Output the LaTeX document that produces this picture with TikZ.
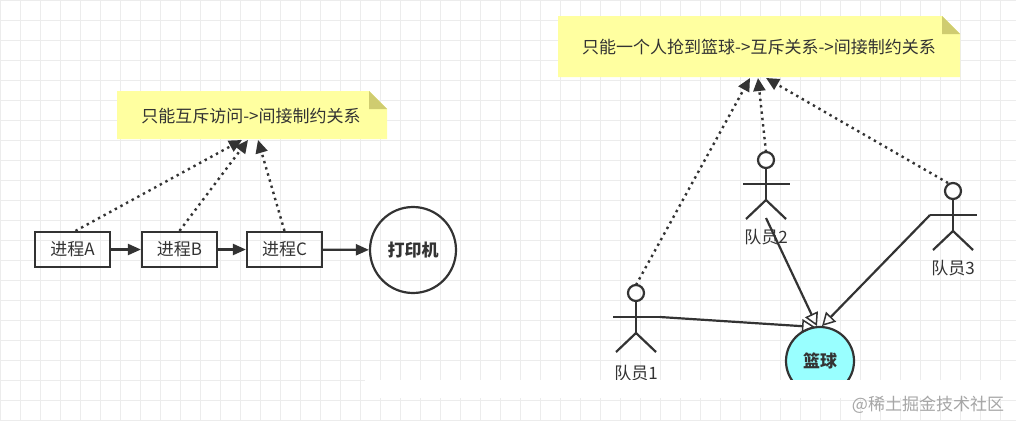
\documentclass[tikz,border=0pt]{standalone}
\usepackage{fontspec}
\setmainfont{Noto Sans CJK SC}
\usetikzlibrary{arrows.meta}
\definecolor{notefill}{HTML}{FFFFA0}
\definecolor{notefold}{HTML}{CFCC70}
\definecolor{ink}{HTML}{333333}
\definecolor{ball}{HTML}{99FFFF}
\tikzset{
  every node/.style={font=\fontsize{17}{19}\selectfont, text=ink},
  proc/.style={draw=ink, line width=2.2pt, minimum width=75pt, minimum height=35pt, inner sep=0},
  solidarr/.style={draw=ink, line width=2.2pt, -{Triangle[length=13pt,width=11pt]}},
  dotarr/.style={draw=ink, line width=2.4pt, dash pattern=on 2.4pt off 4pt, -{Triangle[length=13pt,width=12pt]}},
  openarr/.style={draw=ink, line width=2.2pt, -{Triangle[open,length=13pt,width=14pt,line width=1.5pt]}},
  actorline/.style={draw=ink, line width=2.2pt},
}
\begin{document}
\begin{tikzpicture}[x=1pt,y=-1pt]
\useasboundingbox (0,0) rectangle (1016,421);
\fill[white] (0,0) rectangle (1016,421);
\foreach \i in {0,20,...,1020}{\draw[gray!15, line width=0.8pt] (\i,0) -- (\i,421);}
\foreach \j in {0,20,...,420}{\draw[gray!15, line width=0.8pt] (0,\j) -- (1016,\j);}
% notes
\fill[notefill] (117,91) -- (369,91) -- (387,109) -- (387,139) -- (117,139) -- cycle;
\fill[notefold] (369,91) -- (387,109) -- (369,109) -- cycle;
\node (n1) at (251,116) {只能互斥访问->间接制约关系};
\coordinate (n1b) at (252,140);
\fill[notefill] (558,16) -- (942,16) -- (960,34) -- (960,77) -- (558,77) -- cycle;
\fill[notefold] (942,16) -- (960,34) -- (942,34) -- cycle;
\node (n2) at (759,47) {只能一个人抢到篮球->互斥关系->间接制约关系};
% processes
\node[proc] (a) at (72.5,249.5) {进程A};
\node[proc] (b) at (179.5,249.5) {进程B};
\node[proc] (c) at (284.5,249.5) {进程C};
\node[draw=ink, line width=2.2pt, circle, minimum size=86pt, inner sep=0, font=\fontsize{17}{19}\selectfont\bfseries] (p) at (413,250) {打印机};
\draw[solidarr] (a) -- (b);
\draw[solidarr] (b) -- (c);
\draw[solidarr] (c) -- (p);
\draw[dotarr] ([xshift=3pt]a.north) -- ([xshift=-10pt]n1b);
\draw[dotarr] (b.north) -- ([xshift=-4pt]n1b);
\draw[dotarr] ([xshift=0pt]c.north) -- ([xshift=6pt]n1b);
% ball
\node[draw=ink, line width=2.2pt, circle, fill=ball, minimum size=68pt, inner sep=0, font=\fontsize{17}{19}\selectfont\bfseries] (ball) at (820,361) {篮球};
% actors
\foreach \n/\x/\y in {p1/636/293, p2/766/160, p3/953/191}{
  \node[draw=ink, line width=2.2pt, circle, minimum size=16pt, inner sep=0] (\n h) at (\x,\y) {};
  \coordinate (\n top) at (\x,\y-8);
  \coordinate (\n al) at (\x-23,\y+24);
  \coordinate (\n ar) at (\x+24,\y+24);
  \coordinate (\n hip) at (\x,\y+40);
  \draw[actorline] (\x,\y+8) -- (\n hip);
  \draw[actorline] (\n al) -- (\n ar);
  \draw[actorline] (\x-20,\y+59) -- (\n hip) -- (\x+20,\y+59);
}
\node (l1) at (636,373) {队员1};
\node (l2) at (766,237) {队员2};
\node (l3) at (953,268) {队员3};
\draw[openarr] (p1ar) -- (815,327);
\draw[openarr] (766,218) -- (817,326);
\draw[openarr] (p3al) -- (822,326);
\coordinate (n2b) at (758,78);
\draw[dotarr] (p1top) -- ([xshift=-8pt]n2b);
\draw[dotarr] (p2top) -- ([xshift=0pt]n2b);
\draw[dotarr] ([xshift=-5pt]p3top) -- ([xshift=8pt]n2b);
% watermark band
\fill[white] (365,380) rectangle (1016,398);
\node[text=gray!70, font=\fontsize{17}{19}\selectfont] (wm) at (928,405) {@稀土掘金技术社区};
\end{tikzpicture}
\end{document}
